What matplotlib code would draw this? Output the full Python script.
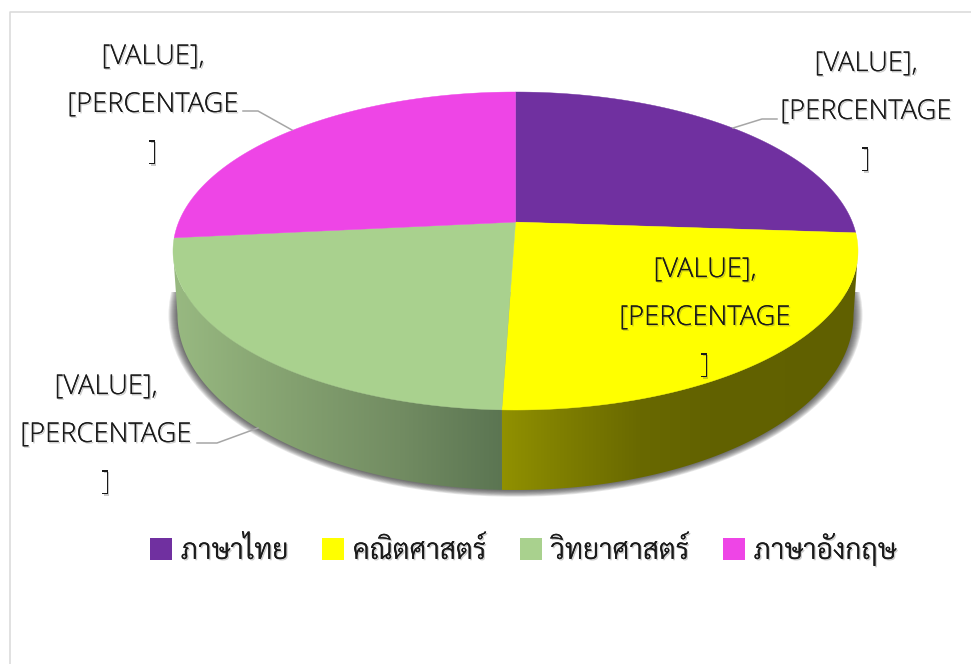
import numpy as np
import matplotlib
matplotlib.use('Agg')
import matplotlib.pyplot as plt
from matplotlib.patches import Polygon, Patch, Ellipse, Rectangle
from matplotlib.colors import to_rgb
import matplotlib.patheffects as pe

# data
categories = ['ภาษาไทย', 'คณิตศาสตร์', 'วิทยาศาสตร์', 'ภาษาอังกฤษ']
values = [26.1, 24.43, 22.87, 26.6]
data_label = '[VALUE],\n[PERCENTAGE\n]'

# styles
colors = ['#7030a0', '#ffff00', '#a9d18e', '#ee45e6']
THAI = 'Sarabun'
TXT = dict(family='Open Sans', weight=300, fontsize=19.7)

W, H = 971, 664
fig = plt.figure(figsize=(W/100, H/100), dpi=100)
ax = fig.add_axes([0, 0, 1, 1])
ax.set_xlim(0, W); ax.set_ylim(H, 0); ax.axis('off')

# frame
ax.plot([9.5, 9.5, W], [H, 12, 12], color='#d9d9d9', lw=1.1, zorder=0)

# perspective pie geometry
top = dict(cx=515.5, cy=251, rx=342.5, ry=159)
bot = dict(cx=515.5, cy=315, rx=338, ry=175)
y0 = 0.182

def project(theta, e):
    u, v = np.sin(theta), np.cos(theta)
    d = 1 + y0 * v
    xn = u * np.sqrt(1 - y0**2) / d
    yn = (v + y0) / d
    return e['cx'] + e['rx'] * xn, e['cy'] - e['ry'] * yn

shadow_text = [pe.withSimplePatchShadow(offset=(1.0, -1.0), shadow_rgbFace='#555555', alpha=0.3), pe.Normal()]

edges = np.deg2rad(np.concatenate([[0], np.cumsum(values) / np.sum(values) * 360]))
vis_a = np.arccos(-y0)             # right tangent of the visible wall
vis_b = 2 * np.pi - np.arccos(-y0) # left tangent

# soft shadow
clip = Rectangle((0, 292), W, H, transform=ax.transData)
for r in np.arange(1, 10):
    el = Ellipse((bot['cx'], bot['cy']), 2*(bot['rx']+r), 2*(bot['ry']+r*0.75), fc='#303030',
                 ec='none', alpha=0.115, zorder=1)
    ax.add_patch(el); el.set_clip_path(clip)

wall_stops = {
    1: [(502, '#919100'), (560, '#7f7f00'), (640, '#696900'), (710, '#626200'), (860, '#606000')],
    2: [(175, '#98b981'), (260, '#89a774'), (400, '#728c62'), (502, '#5b7552')],
}
xs = np.arange(170, 865)
for i, stops in wall_stops.items():
    a, b = max(edges[i], vis_a), min(edges[i+1], vis_b)
    t = np.linspace(a, b, 200)
    xt, yt = project(t, top)
    xb, yb = project(t, bot)
    poly = Polygon(np.r_[np.c_[xt, yt], np.c_[xb, yb][::-1]], closed=True, fc='none', ec='none', zorder=2)
    ax.add_patch(poly)
    sx = [s[0] for s in stops]
    rgb = np.array([to_rgb(s[1]) for s in stops])
    grad = np.stack([np.interp(xs, sx, rgb[:, k]) for k in range(3)], axis=-1)[None, :, :]
    im = ax.imshow(grad, extent=(xs[0], xs[-1], 500, 200), aspect='auto', zorder=2, interpolation='bilinear')
    im.set_clip_path(poly)
ax.set_xlim(0, W); ax.set_ylim(H, 0)

# top faces
centre = (top['cx'], top['cy'] - top['ry'] * y0)
for i, c in enumerate(colors):
    t = np.linspace(edges[i], edges[i+1], 200)
    x, y = project(t, top)
    ax.add_patch(Polygon(np.r_[[centre], np.c_[x, y]], closed=True, fc=c, ec=c, lw=0.3, zorder=3))

# leader lines
leaders = [([777, 762, 733], [119, 119, 128]),
           ([197, 217, 258], [443, 443, 428]),
           ([243, 258, 292], [111, 111, 130])]
for lx, ly in leaders:
    ax.plot(lx, ly, color='#a6a6a6', lw=1.1, zorder=4, solid_joinstyle='round')

# data labels
label_pos = [(866, 112), (705, 318), (106, 435), (153, 105)]
for lx, ly in label_pos:
    t = ax.text(lx, ly, data_label, ha='center', va='center', ma='center', linespacing=1.95,
                color='#1a1a1a', zorder=5, **TXT)
    t.set_path_effects(shadow_text)

# legend
fs = 20.3
fpx = fs * 100 / 72
handles = [Patch(fc=c, ec='none') for c in colors]
leg = ax.legend(handles, categories, ncol=4, loc='center', bbox_to_anchor=(523/W, 1-549/H),
                frameon=False, prop=dict(family=THAI, size=fs, weight=300),
                handlelength=22/fpx, handleheight=22/fpx, handletextpad=9/fpx, columnspacing=33.5/fpx,
                borderpad=0, borderaxespad=0)
leg.set_zorder(6)
for t in leg.get_texts():
    t.set_color('#1a1a1a')
    t.set_path_effects(shadow_text)

fig.savefig('out.png', dpi=100)
